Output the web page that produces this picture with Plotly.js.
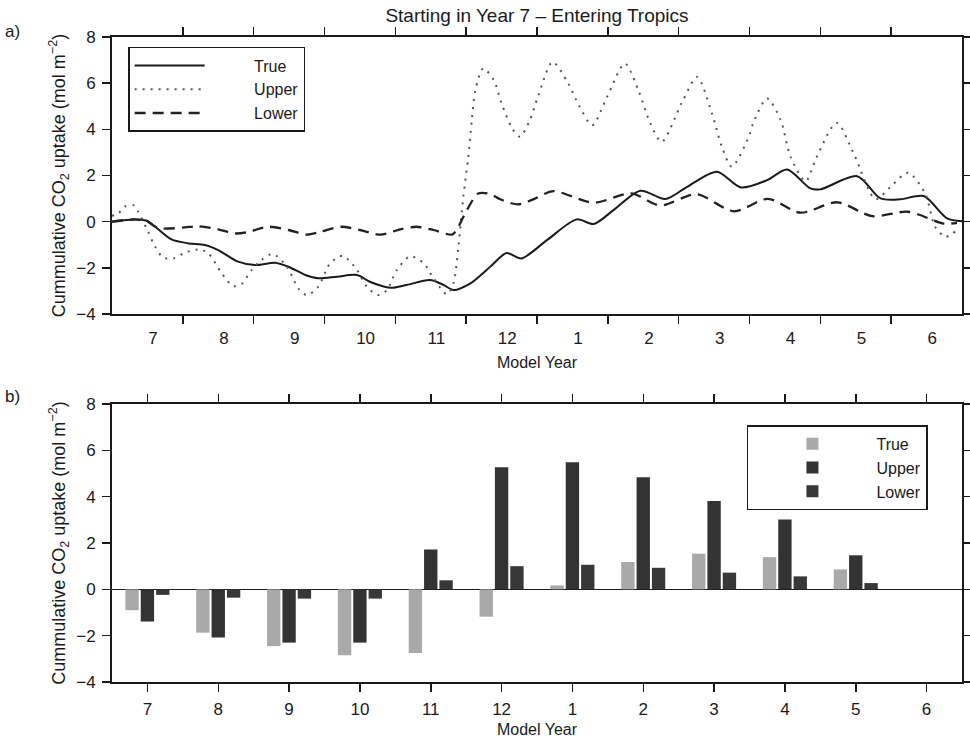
<!DOCTYPE html>
<html>
<head>
<meta charset="utf-8">
<script src="https://cdn.plot.ly/plotly-3.0.1.min.js"></script>
<style>html,body{margin:0;padding:0;background:#fff;}#chart{width:970px;height:742px;}</style>
</head>
<body>
<div id="chart"></div>
<script>
// ---- Panel a: cumulative uptake curves (time in model-year intervals, 0..12) ----
const trueT = [0, 0.32, 0.49, 0.61, 0.84, 1.08, 1.31, 1.50, 1.78, 2.02, 2.30, 2.49, 2.73, 2.91, 3.18, 3.46, 3.64, 3.93, 4.16, 4.49, 4.68, 4.82, 5.06, 5.34, 5.57, 5.78, 6.14, 6.56, 6.80, 7.08, 7.46, 7.81, 8.12, 8.54, 8.88, 9.25, 9.53, 9.86, 10.0, 10.52, 10.85, 11.13, 11.46, 11.79, 12.0];
const trueY = [0, 0.1, 0.04, -0.22, -0.77, -0.94, -1.01, -1.23, -1.73, -1.88, -1.78, -1.95, -2.31, -2.45, -2.38, -2.31, -2.6, -2.86, -2.74, -2.53, -2.74, -2.96, -2.67, -1.95, -1.36, -1.59, -0.8, 0.1, -0.1, 0.5, 1.34, 0.98, 1.51, 2.16, 1.48, 1.8, 2.26, 1.44, 1.4, 1.97, 1.01, 0.97, 1.11, 0.14, 0.02];

const upperT = [0, 0.09, 0.18, 0.30, 0.37, 0.51, 0.61, 0.72, 0.87, 1.03, 1.24, 1.36, 1.55, 1.71, 1.83, 1.97, 2.11, 2.27, 2.47, 2.63, 2.75, 2.91, 3.08, 3.26, 3.46, 3.60, 3.76, 3.88, 4.02, 4.21, 4.40, 4.54, 4.73, 4.82, 4.89, 4.96, 5.03, 5.08, 5.13, 5.24, 5.39, 5.50, 5.65, 5.76, 5.90, 6.02, 6.22, 6.44, 6.59, 6.78, 6.99, 7.24, 7.43, 7.60, 7.76, 8.05, 8.26, 8.47, 8.61, 8.75, 8.99, 9.06, 9.25, 9.44, 9.58, 9.79, 9.95, 10.23, 10.47, 10.78, 10.99, 11.24, 11.48, 11.62, 11.77, 11.93];
const upperY = [0.25, 0.36, 0.65, 0.72, 0.43, -0.44, -1.09, -1.55, -1.59, -1.34, -1.2, -1.37, -2.24, -2.79, -2.7, -2.1, -1.66, -1.4, -1.95, -2.89, -3.18, -2.82, -1.8, -1.48, -2.1, -2.82, -3.18, -2.96, -2.1, -1.5, -1.8, -2.45, -3.15, -2.67, -1.09, 1.08, 2.81, 4.4, 5.7, 6.64, 6.13, 5.12, 4.04, 3.68, 4.4, 5.48, 6.92, 5.99, 5.05, 4.18, 5.41, 6.85, 5.7, 4.26, 3.46, 5.19, 6.27, 4.69, 3.24, 2.38, 3.68, 4.33, 5.34, 4.4, 2.81, 1.75, 2.81, 4.28, 2.96, 0.97, 1.51, 2.12, 1.22, -0.22, -0.65, -0.36];

const lowerT = [0, 0.32, 0.49, 0.61, 0.72, 1.03, 1.21, 1.50, 1.74, 1.93, 2.20, 2.49, 2.75, 2.94, 3.23, 3.50, 3.79, 4.07, 4.30, 4.54, 4.80, 4.87, 5.01, 5.17, 5.34, 5.48, 5.73, 5.97, 6.23, 6.80, 7.33, 7.74, 8.25, 8.78, 9.26, 9.72, 10.24, 10.73, 11.24, 11.74, 11.93];
const lowerY = [0, 0.1, 0.02, -0.22, -0.3, -0.25, -0.2, -0.33, -0.51, -0.44, -0.22, -0.36, -0.56, -0.44, -0.22, -0.36, -0.56, -0.33, -0.22, -0.36, -0.56, -0.33, 0.5, 1.22, 1.2, 0.97, 0.75, 1.0, 1.32, 0.82, 1.23, 0.7, 1.19, 0.45, 0.99, 0.39, 0.84, 0.24, 0.43, -0.08, -0.05];

// ---- Shared tick labels (model years) ----
const yearLabels = ['7', '8', '9', '10', '11', '12', '1', '2', '3', '4', '5', '6'];
const seriesNames = ['True', 'Upper', 'Lower'];

// ---- Panel b: end-of-year cumulative uptake bars ----
const trueBar  = [-0.9, -1.87, -2.45, -2.85, -2.75, -1.18, 0.17, 1.18, 1.54, 1.39, 0.86, null];
const upperBar = [-1.39, -2.08, -2.3, -2.3, 1.72, 5.27, 5.49, 4.84, 3.81, 3.02, 1.47, null];
const lowerBar = [-0.24, -0.36, -0.4, -0.4, 0.39, 1.0, 1.06, 0.93, 0.72, 0.56, 0.27, null];

const yTicks = [-4, -2, 0, 2, 4, 6, 8];

// derived positions
const idx = yearLabels.map((_, i) => i);
const boundaries = yearLabels.slice(1).map((_, i) => i + 1);
const labelPos = idx.map(i => i + 0.58);
const pad = '\u00a0'.repeat(10);   // gap between short line sample and legend text

const INK = '#1a1a1a';
const FONT = 'Liberation Sans, Arial, Helvetica, sans-serif';

const traces = [
  {x: trueT, y: trueY, name: pad + seriesNames[0], type: 'scatter', mode: 'lines', xaxis: 'x', yaxis: 'y',
   line: {color: INK, width: 2, shape: 'spline', smoothing: 0.8}, legend: 'legend'},
  {x: upperT, y: upperY, name: pad + seriesNames[1], type: 'scatter', mode: 'lines', xaxis: 'x', yaxis: 'y',
   line: {color: '#555', width: 2, dash: '2px,6px', shape: 'spline', smoothing: 0.8}, legend: 'legend'},
  {x: lowerT, y: lowerY, name: pad + seriesNames[2], type: 'scatter', mode: 'lines', xaxis: 'x', yaxis: 'y',
   line: {color: '#222', width: 2.3, dash: '11px,7px', shape: 'spline', smoothing: 0.8}, legend: 'legend'},
  {x: [], y: [], xaxis: 'x3', yaxis: 'y', type: 'scatter', mode: 'lines', showlegend: false, hoverinfo: 'skip'},
  {x: idx, y: trueBar, name: seriesNames[0], type: 'bar', xaxis: 'x2', yaxis: 'y2',
   marker: {color: '#a9a9a9'}, legend: 'legend2'},
  {x: idx, y: upperBar, name: seriesNames[1], type: 'bar', xaxis: 'x2', yaxis: 'y2',
   marker: {color: '#333333'}, legend: 'legend2'},
  {x: idx, y: lowerBar, name: seriesNames[2], type: 'bar', xaxis: 'x2', yaxis: 'y2',
   marker: {color: '#383838'}, legend: 'legend2'}
];

const frameAxis = {
  showline: true, linewidth: 2, linecolor: INK, mirror: 'allticks',
  ticks: 'outside', ticklen: 8, tickwidth: 1.5, tickcolor: INK,
  showgrid: false, zeroline: false, fixedrange: true,
  tickfont: {size: 17, color: INK}
};

const yTitle = {text: 'Cummulative CO<sub>2</sub> uptake (mol m<sup>\u22122</sup>)', font: {size: 18, color: INK}, standoff: 6};

const layout = {
  width: 970, height: 742,
  margin: {l: 112, r: 8, t: 37, b: 60},
  paper_bgcolor: '#ffffff', plot_bgcolor: '#ffffff',
  font: {family: FONT, size: 17, color: INK},
  showlegend: true,
  title: {text: 'Starting in Year 7 \u2013 Entering Tropics', xref: 'paper', x: 0.5, xanchor: 'center',
          yref: 'container', y: 0.979, yanchor: 'middle', font: {size: 19, color: INK}},
  barmode: 'group', bargap: 0.35, bargroupgap: 0.13,
  xaxis: Object.assign({}, frameAxis, {domain: [0, 1], anchor: 'y', range: [0, 12],
          tickvals: boundaries, showticklabels: false}),
  xaxis3: {overlaying: 'x', anchor: 'y', range: [0, 12], tickvals: labelPos, ticktext: yearLabels,
          ticks: '', showline: false, showgrid: false, zeroline: false, fixedrange: true,
          tickfont: {size: 17, color: INK}, ticklabelstandoff: 12,
          title: {text: 'Model Year', font: {size: 16, color: INK}, standoff: 9}},
  yaxis: Object.assign({}, frameAxis, {domain: [0.5705, 1], anchor: 'x', range: [-4, 8],
          tickvals: yTicks, ticklabelstandoff: 3, title: yTitle}),
  xaxis2: Object.assign({}, frameAxis, {domain: [0, 1], anchor: 'y2', range: [-0.5, 11.5],
          tickvals: idx, ticktext: yearLabels, ticklabelstandoff: 3,
          title: {text: 'Model Year', font: {size: 16, color: INK}, standoff: 5}}),
  yaxis2: Object.assign({}, frameAxis, {domain: [0, 0.431], anchor: 'x2', range: [-4, 8],
          tickvals: yTicks, ticklabelstandoff: 3, zeroline: true, zerolinecolor: INK, zerolinewidth: 1.5,
          title: yTitle}),
  legend: {x: 0.019, y: 0.9845, xanchor: 'left', yanchor: 'top', bgcolor: '#ffffff',
           bordercolor: INK, borderwidth: 1.5, font: {size: 16, color: INK}, itemwidth: 70,
           tracegroupgap: 0},
  legend2: {x: 0.747, y: 0.398, xanchor: 'left', yanchor: 'top', bgcolor: '#ffffff',
            bordercolor: INK, borderwidth: 1.5, font: {size: 16, color: INK}, itemwidth: 118,
            tracegroupgap: 0, traceorder: 'normal'},
  annotations: [
    {text: 'a)', xref: 'paper', yref: 'paper', x: -0.1165, y: 1.008, xanchor: 'center', yanchor: 'middle',
     showarrow: false, font: {size: 17, color: INK}},
    {text: 'b)', xref: 'paper', yref: 'paper', x: -0.1165, y: 0.443, xanchor: 'center', yanchor: 'middle',
     showarrow: false, font: {size: 17, color: INK}}
  ]
};

Plotly.newPlot('chart', traces, layout, {displayModeBar: false, staticPlot: true});
</script>
</body>
</html>
